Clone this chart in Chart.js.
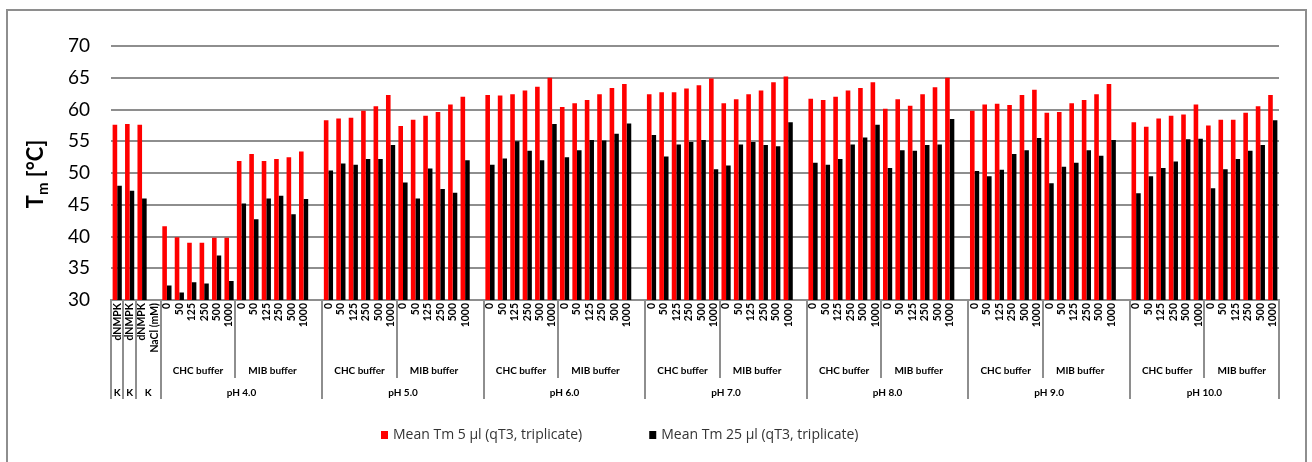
<!DOCTYPE html>
<html>
<head>
<meta charset="utf-8">
<script src="https://cdn.jsdelivr.net/npm/chart.js@4/dist/chart.umd.min.js"></script>
<style>
  html, body { margin: 0; padding: 0; background: #fff; }
  #wrap { width: 1312px; height: 462px; position: relative; }
</style>
</head>
<body>
<div id="wrap"><canvas id="c" width="1312" height="462"></canvas></div>
<script>
// ---- data ----
const seriesNames = ['Mean Tm 5 \u00b5l (qT3, triplicate)', 'Mean Tm 25 \u00b5l (qT3, triplicate)'];

const controlLabels = ['dNMPK', 'dNMPK', 'dNMPK', 'NaCl (mM)'];
const controlGroups = ['K', 'K', 'K'];
const controlTm5  = [57.6, 57.7, 57.6];
const controlTm25 = [48.0, 47.2, 46.0];

const concentrations = ['0', '50', '125', '250', '500', '1000'];
const buffers = ['CHC buffer', 'MIB buffer'];
const phLevels = ['pH 4.0', 'pH 5.0', 'pH 6.0', 'pH 7.0', 'pH 8.0', 'pH 9.0', 'pH 10.0'];

// each row: CHC 0..1000 followed by MIB 0..1000
const tm5_pH4  = [41.6, 39.9, 39.0, 39.0, 39.8, 39.8,  51.9, 53.0, 51.9, 52.2, 52.5, 53.4];
const tm25_pH4 = [32.3, 31.2, 32.8, 32.6, 37.0, 33.0,  45.2, 42.7, 46.0, 46.4, 43.5, 45.9];
const tm5_pH5  = [58.3, 58.6, 58.7, 59.8, 60.5, 62.3,  57.4, 58.4, 59.0, 59.6, 60.8, 62.0];
const tm25_pH5 = [50.4, 51.5, 51.3, 52.2, 52.2, 54.4,  48.5, 46.0, 50.7, 47.5, 46.9, 52.0];
const tm5_pH6  = [62.3, 62.2, 62.4, 63.0, 63.6, 65.0,  60.4, 61.0, 61.5, 62.4, 63.4, 64.0];
const tm25_pH6 = [51.3, 52.3, 55.0, 53.5, 52.0, 57.7,  52.5, 53.6, 55.2, 55.1, 56.2, 57.8];
const tm5_pH7  = [62.4, 62.7, 62.7, 63.3, 63.8, 64.9,  61.0, 61.6, 62.4, 63.0, 64.3, 65.2];
const tm25_pH7 = [56.0, 52.6, 54.5, 54.9, 55.2, 50.6,  51.2, 54.5, 54.9, 54.4, 54.2, 58.0];
const tm5_pH8  = [61.7, 61.5, 62.0, 63.0, 63.4, 64.3,  60.1, 61.6, 60.6, 62.4, 63.5, 65.0];
const tm25_pH8 = [51.6, 51.3, 52.2, 54.5, 55.6, 57.6,  50.8, 53.6, 53.5, 54.4, 54.5, 58.5];
const tm5_pH9  = [59.8, 60.8, 60.9, 60.7, 62.3, 63.1,  59.5, 59.6, 61.0, 61.5, 62.4, 64.0];
const tm25_pH9 = [50.3, 49.5, 50.5, 53.0, 53.6, 55.5,  48.4, 51.0, 51.6, 53.6, 52.7, 55.2];
const tm5_pH10  = [58.0, 57.3, 58.6, 59.0, 59.2, 60.8,  57.5, 58.4, 58.4, 59.5, 60.5, 62.3];
const tm25_pH10 = [46.8, 49.5, 50.8, 51.8, 55.3, 55.4,  47.6, 50.6, 52.2, 53.5, 54.4, 58.3];

const tm5ByPh  = [tm5_pH4, tm5_pH5, tm5_pH6, tm5_pH7, tm5_pH8, tm5_pH9, tm5_pH10];
const tm25ByPh = [tm25_pH4, tm25_pH5, tm25_pH6, tm25_pH7, tm25_pH8, tm25_pH9, tm25_pH10];

// ---- build the category axis ----
const labels = [...controlLabels];
const red = [...controlTm5, null];
const black = [...controlTm25, null];
const phGroups = [];
phLevels.forEach((ph, g) => {
  const start = labels.length;
  buffers.forEach(() => concentrations.forEach(c => labels.push(c)));
  red.push(...tm5ByPh[g]);
  black.push(...tm25ByPh[g]);
  if (g < phLevels.length - 1) { labels.push(''); red.push(null); black.push(null); }
  phGroups.push({ name: ph, start: start, split: start + concentrations.length, end: labels.length });
});

const LINE = '#8e8e8e';

// frame around the whole chart
const framePlugin = {
  id: 'frame',
  beforeDraw(chart) {
    const ctx = chart.ctx;
    ctx.save();
    ctx.fillStyle = '#fff';
    ctx.fillRect(0, 0, chart.width, chart.height);
    ctx.strokeStyle = LINE;
    ctx.lineWidth = 2;
    ctx.strokeRect(7, 10, 1299, 470);
    ctx.restore();
  }
};

// grouped labels under the rotated category ticks
const axisGroupsPlugin = {
  id: 'axisGroups',
  afterDraw(chart) {
    const ctx = chart.ctx;
    const xs = chart.scales.x;
    const n = chart.data.labels.length;
    const w = (xs.right - xs.left) / n;
    const edge = i => xs.left + i * w;
    const top = chart.chartArea.bottom;
    ctx.save();
    ctx.strokeStyle = LINE;
    ctx.lineWidth = 2;
    const vline = (i, y1) => {
      const x = Math.round(edge(i));
      ctx.beginPath(); ctx.moveTo(x, top); ctx.lineTo(x, y1); ctx.stroke();
    };
    ctx.fillStyle = '#000';
    ctx.font = 'bold 10px Lato';
    ctx.textAlign = 'center';
    ctx.textBaseline = 'middle';
    // controls: K | K | K (spanning the NaCl column)
    vline(0, 399); vline(1, 399); vline(2, 399);
    const kSpans = [[0, 1], [1, 2], [2, 4]];
    controlGroups.forEach((k, i) => {
      ctx.fillText(k, (edge(kSpans[i][0]) + edge(kSpans[i][1])) / 2, 393);
    });
    phGroups.forEach(gp => {
      vline(gp.start, 399);
      vline(gp.split, 378);
      const mibEnd = gp.split + concentrations.length;
      ctx.fillText(buffers[0], (edge(gp.start) + edge(gp.split)) / 2, 371);
      ctx.fillText(buffers[1], (edge(gp.split) + edge(mibEnd)) / 2, 371);
      ctx.fillText(gp.name, (edge(gp.start) + edge(gp.end)) / 2, 393);
    });
    vline(n, 399);
    ctx.restore();
  }
};

// y axis title with subscript
const yTitlePlugin = {
  id: 'yTitle',
  afterDraw(chart) {
    const ctx = chart.ctx;
    ctx.save();
    const main = 'bold 22px Lato', sub = 'bold 15px Lato';
    ctx.font = main; const wT = ctx.measureText('T').width;
    const rest = ' [\u00b0C]'; const wR = ctx.measureText(rest).width;
    ctx.font = sub; const wM = ctx.measureText('m').width;
    const total = wT + wM + wR;
    const cx = 43, cy = 174;
    ctx.translate(cx, cy);
    ctx.rotate(-Math.PI / 2);
    ctx.fillStyle = '#000';
    ctx.textBaseline = 'alphabetic';
    ctx.textAlign = 'left';
    let x = -total / 2;
    ctx.font = main; ctx.fillText('T', x, 0); x += wT;
    ctx.font = sub; ctx.fillText('m', x, 5); x += wM;
    ctx.font = main; ctx.fillText(rest, x, 0);
    ctx.restore();
  }
};

// legend row under the axis
const legendPlugin = {
  id: 'legendRow',
  afterDraw(chart) {
    const ctx = chart.ctx;
    ctx.save();
    ctx.font = '14px "Open Sans"';
    ctx.textBaseline = 'middle';
    ctx.textAlign = 'left';
    let x = 381;
    const y = 435;
    chart.data.datasets.forEach(ds => {
      ctx.fillStyle = ds.backgroundColor;
      ctx.fillRect(x, y - 4, 7, 8);
      ctx.fillStyle = '#333';
      ctx.fillText(ds.label, x + 12, y);
      x += 12 + ctx.measureText(ds.label).width + 67;
    });
    ctx.restore();
  }
};

new Chart(document.getElementById('c'), {
  type: 'bar',
  data: {
    labels: labels,
    datasets: [
      { label: seriesNames[0], data: red, backgroundColor: '#ff0000', borderWidth: 0 },
      { label: seriesNames[1], data: black, backgroundColor: '#000000', borderWidth: 0 }
    ]
  },
  options: {
    responsive: false,
    animation: false,
    events: [],
    datasets: { bar: { categoryPercentage: 0.74, barPercentage: 1.0 } },
    layout: { padding: { left: 0, right: 33, top: 46, bottom: 0 } },
    plugins: { legend: { display: false }, tooltip: { enabled: false } },
    scales: {
      x: {
        grid: { display: false, drawTicks: false },
        border: { display: true, color: LINE, width: 2 },
        ticks: {
          autoSkip: false, minRotation: 90, maxRotation: 90, padding: 3,
          color: '#000', font: { family: 'Lato', size: 10.5, weight: 'bold' }
        },
        afterFit(scale) { scale.height = 162; }
      },
      y: {
        min: 30, max: 70,
        grid: { color: LINE, lineWidth: 2, drawTicks: false },
        border: { display: false },
        ticks: { stepSize: 5, padding: 21, color: '#000', font: { family: 'Lato', size: 19 } },
        afterFit(scale) { scale.width = 111; }
      }
    }
  },
  plugins: [framePlugin, axisGroupsPlugin, yTitlePlugin, legendPlugin]
});
</script>
</body>
</html>
